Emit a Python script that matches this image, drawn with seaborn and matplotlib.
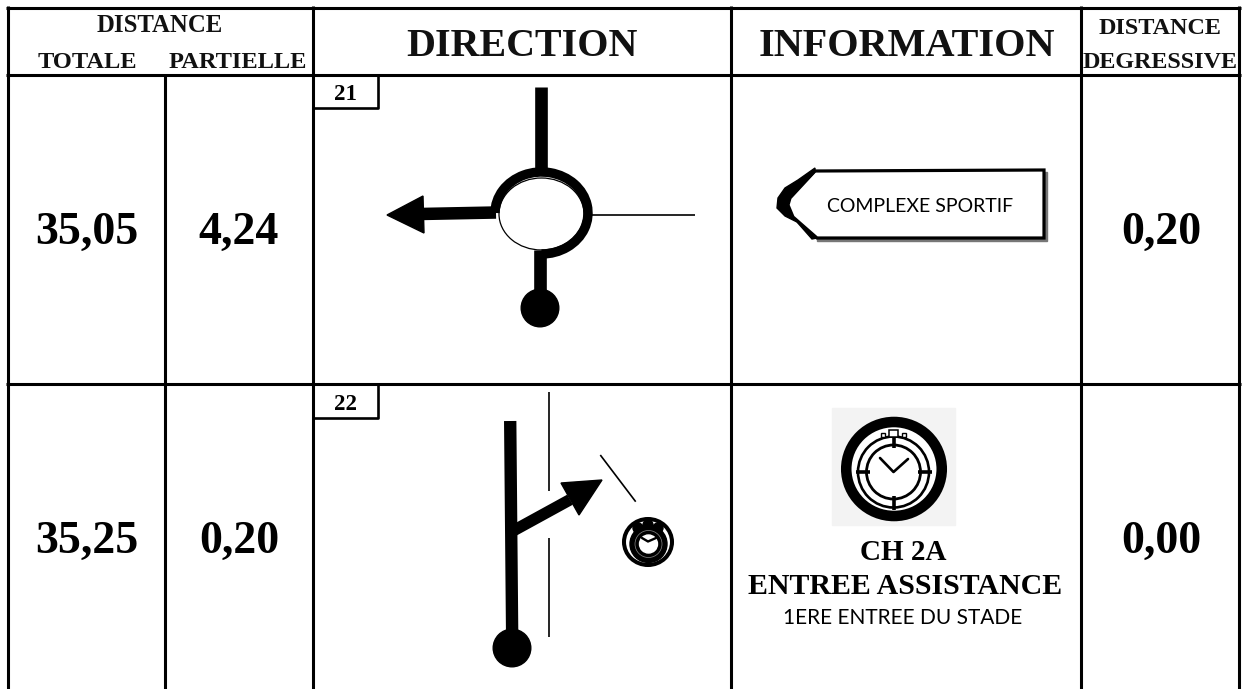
import matplotlib
matplotlib.use("Agg")
import matplotlib.pyplot as plt
from matplotlib.patches import Arc, Circle, Ellipse, Polygon, Rectangle
import seaborn as sns

# table grid, in picture pixels
col_edges = [7.5, 165, 312.5, 731, 1081, 1239]
row_edges = [7.5, 75, 383.5]
grid_bottom = 689

header_main = ["DIRECTION", "INFORMATION"]
totale = ["35,05", "35,25"]
partielle = ["4,24", "0,20"]
degressive = ["0,20", "0,00"]
case_numbers = ["21", "22"]
value_y = [233, 541.5]
case_boxes = [(312.5, 75, 378, 108), (312.5, 383.5, 378, 418)]
case_label_y = [95, 405]

W, H = 1246, 689
SERIF = "Liberation Serif"
SANS = "Lato"

sns.set_theme(style="white")
plt.rcParams["font.family"] = [SERIF, "DejaVu Sans"]

fig = plt.figure(figsize=(W / 100, H / 100), dpi=100)
ax = fig.add_axes([0, 0, 1, 1])
ax.set_xlim(0, W)
ax.set_ylim(H, 0)
ax.axis("off")

LW = 2.2
grid = dict(color="black", lw=LW, solid_capstyle="butt")
for x in [col_edges[0], col_edges[2], col_edges[3], col_edges[4], col_edges[5]]:
    sns.lineplot(x=[x, x], y=[row_edges[0] - 1.5, grid_bottom], ax=ax, estimator=None, sort=False, **grid)
sns.lineplot(x=[col_edges[1]] * 2, y=[row_edges[1], grid_bottom], ax=ax, estimator=None, sort=False, **grid)
for y in row_edges:
    sns.lineplot(x=[col_edges[0] - 1.5, col_edges[5] + 1.5], y=[y, y], ax=ax, estimator=None, sort=False, **grid)

# header
head = dict(family=SERIF, weight="bold", ha="center", va="center", color="#111")
ax.text(160, 25, "DISTANCE", size=17.8, **head)
ax.text(87, 63, "TOTALE", size=17.6, **head)
ax.text(238, 63, "PARTIELLE", size=17.6, **head)
ax.text(522, 46.5, header_main[0], size=28.8, **head)
ax.text(907, 46.5, header_main[1], size=29, **head)
ax.text(1160, 28, "DISTANCE", size=17.4, **head)
ax.text(1160, 62, "DEGRESSIVE", size=17.4, **head)

# values
big = dict(family=SERIF, weight="bold", size=33, ha="center", va="center", color="black")
for i, yc in enumerate(value_y):
    ax.text(86.5, yc, totale[i], **big)
    ax.text(239, yc, partielle[i], **big)
    ax.text(1161, yc, degressive[i], **big)
    x0, y0, x1, y1 = case_boxes[i]
    sns.lineplot(x=[x0, x1, x1], y=[y1, y1, y0], ax=ax, estimator=None, sort=False, color="black", lw=1.9)
    ax.text((x0 + x1) / 2 + 0.5, case_label_y[i], case_numbers[i], family=SERIF, weight="bold", size=16.5,
            ha="center", va="center", color="black")

# case 21: roundabout
ax.plot([541.3, 541.3], [87, 175], color="black", lw=9.1, solid_capstyle="butt")
ax.plot([539.5, 539.5], [250, 295], color="black", lw=9.1, solid_capstyle="butt")
ax.add_patch(Circle((540, 308), 18.8, color="black", zorder=3))
ax.plot([420, 496], [214, 212.5], color="black", lw=9, solid_capstyle="butt")
ax.add_patch(Ellipse((541.5, 214), 85, 72, fc="white", ec="black", lw=0.9, zorder=3))
ax.add_patch(Arc((541.5, 213), 93, 82, theta1=180, theta2=450, color="black", lw=6.8, zorder=4))
ax.plot([592, 695], [215, 215], color="black", lw=1.2, solid_capstyle="butt")
ax.add_patch(Polygon([[387, 215], [423, 196], [424, 233]], color="black", zorder=3))

# case 21: sign
ax.add_patch(Polygon([[817, 172], [1047, 172], [1047, 241], [817, 241]], color="#777", zorder=2))
ax.add_patch(Polygon([[815, 171], [1044, 170], [1044, 238], [817, 238], [793, 217], [788, 205], [790, 198]],
                     fc="white", ec="black", lw=2.3, zorder=3))
ax.add_patch(Polygon([[815, 168], [798, 180], [785, 188], [778, 198], [777, 208], [785, 216], [797, 222],
                      [812, 239], [817, 238], [793, 217], [788, 205], [790, 198], [815, 172]],
                     color="black", zorder=4))
ax.text(920, 207, "COMPLEXE SPORTIF", family=SANS, size=14, ha="center", va="center", color="black", zorder=5)

# case 22: route
ax.plot([510.2, 512.2], [421, 640], color="black", lw=8.9, solid_capstyle="butt")
ax.add_patch(Circle((512, 648), 18.8, color="black", zorder=3))
ax.plot([512, 570], [531.5, 499.7], color="black", lw=8.3, solid_capstyle="butt")
ax.add_patch(Polygon([[602, 480], [561, 483], [579, 515]], color="black", zorder=3))
ax.plot([549.3, 549.3], [392, 491], color="black", lw=1.2, solid_capstyle="butt")
ax.plot([549.3, 549.3], [538, 637], color="black", lw=1.2, solid_capstyle="butt")
ax.plot([600.3, 635.7], [455, 501.7], color="black", lw=1.2, solid_capstyle="butt")

# case 22: small clock
ax.add_patch(Ellipse((648, 542), 48, 46, fc="white", ec="black", lw=2.9, zorder=3))
for bx, by in [(638, 528), (648, 525), (658, 528)]:
    ax.add_patch(Circle((bx, by), 5, color="black", zorder=4))
ax.add_patch(Circle((648.5, 544), 18.5, color="black", zorder=4))
ax.add_patch(Circle((648.5, 544), 13.5, fc="none", ec="#888", lw=0.5, zorder=5))
ax.add_patch(Circle((648.5, 544), 9, color="white", zorder=5))
ax.plot([642, 648, 656], [538, 541.5, 538], color="black", lw=1.7, zorder=6)

# case 22: checkpoint symbol
ax.add_patch(Rectangle((832, 408), 123, 117, color="#f3f3f3", zorder=2))
ax.add_patch(Ellipse((894, 469), 95.5, 94, fc="white", ec="black", lw=7.6, zorder=3))
ax.add_patch(Circle((893.5, 472), 35.5, fc="none", ec="black", lw=1.9, zorder=4))
ax.add_patch(Circle((893.5, 472), 27, fc="none", ec="black", lw=2, zorder=4))
ax.plot([880, 893.5, 908], [458, 472, 459], color="black", lw=1.9, zorder=5)
for dx, dy in [(0, -1), (0, 1), (-1, 0), (1, 0)]:
    ax.plot([893.5 + dx * 24, 893.5 + dx * 38], [472 + dy * 24, 472 + dy * 38], color="black", lw=2.6,
            solid_capstyle="butt", zorder=5)
ax.add_patch(Rectangle((889, 430), 9, 7, fc="white", ec="black", lw=1.1, zorder=5))
ax.add_patch(Rectangle((881, 433), 4, 4, fc="white", ec="black", lw=1, zorder=5))
ax.add_patch(Rectangle((902, 433), 4, 4, fc="white", ec="black", lw=1, zorder=5))

# case 22: information text
info = dict(family=SERIF, weight="bold", ha="center", va="center", color="black")
ax.text(903.5, 552, "CH 2A", size=21, **info)
ax.text(905, 587, "ENTREE ASSISTANCE", size=21.5, **info)
ax.text(903, 618, "1ERE ENTREE DU STADE", family=SANS, size=15, ha="center", va="center", color="black")

fig.savefig("out.png", dpi=100, facecolor="white")
plt.close(fig)
